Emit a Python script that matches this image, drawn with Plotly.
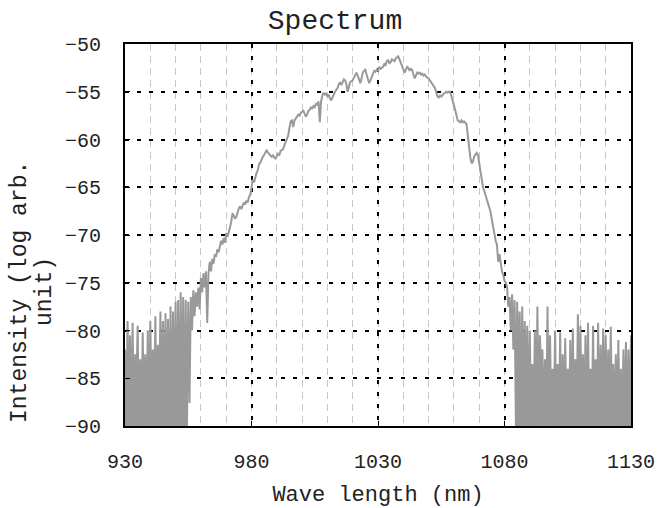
import numpy as np
import plotly.graph_objects as go

# Wavelength grid (nm), 0.5 nm sampling from 930 to 1130
wl_start = 930.0
wl_stop = 1130.0
wl_step = 0.5
wavelength = np.arange(wl_start, wl_stop + wl_step / 2, wl_step)

# Intensity (log arb. unit), 10 samples per row (5 nm)
intensity = [
    -82.0, -90, -79.0, -88, -80.5, -90, -79.2, -90, -82.5, -86,
    -79.5, -90, -83.0, -90, -80.2, -89, -82.5, -90, -80.0, -90,
    -79.0, -88, -82.0, -90, -78.5, -90, -81.5, -87, -78.0, -90,
    -79.0, -90, -78.2, -88, -78.8, -90, -77.5, -90, -78.0, -89,
    -77.0, -90, -76.8, -90, -76.0, -88, -76.5, -90, -76.8, -90,
    -77.0, -87.6, -76.5, -80.0, -75.8, -78.5, -76.0, -77.5, -75.5, -77.8,
    -74.5, -76.0, -74.0, -75.5, -73.8, -79.2, -74.0, -72.8, -73.8, -72.5,
    -73.0, -72.0, -72.3, -71.5, -71.8, -71.2, -70.6, -71.0, -70.3, -70.8,
    -69.8, -70.2, -69.5, -69.2, -68.6, -67.7, -68.0, -68.3, -68.1, -67.6,
    -67.2, -67.0, -67.3, -66.9, -66.6, -66.8, -66.4, -66.6, -66.0, -65.8,
    -64.8, -64.2, -64.5, -63.8, -63.5, -63.2, -62.6, -62.4, -62.0, -61.8,
    -61.6, -61.3, -61.1, -61.4, -61.5, -61.7, -61.8, -61.6, -61.9, -62.0,
    -61.8, -61.5, -61.6, -61.2, -61.1, -61.0, -60.6, -60.3, -60.0, -59.6,
    -58.8, -58.1, -58.0, -58.7, -58.0, -57.8, -57.6, -57.4, -57.5, -57.2,
    -57.1, -57.0, -57.3, -57.6, -57.4, -57.0, -56.9, -56.6, -56.8, -56.5,
    -56.6, -56.2, -56.4, -56.0, -58.2, -56.0, -55.4, -55.1, -55.3, -55.2,
    -55.5, -55.3, -55.7, -55.9, -55.6, -55.2, -55.0, -54.8, -54.6, -54.2,
    -54.0, -54.3, -53.9, -53.7, -53.8, -54.2, -55.0, -54.3, -54.0, -53.9,
    -53.8, -53.5, -53.2, -53.0, -53.3, -53.8, -54.1, -53.6, -53.0, -52.8,
    -52.7, -53.2, -53.6, -54.1, -53.8, -53.4, -53.0, -52.8, -52.9, -52.7,
    -52.8, -52.4, -52.6, -52.5, -52.4, -52.1, -52.2, -51.8, -51.7, -52.0,
    -51.9, -51.6, -51.7, -51.8, -51.5, -51.4, -51.3, -51.6, -52.0, -52.4,
    -52.7, -53.0, -52.7, -52.4, -52.5, -52.8, -52.6, -52.7, -53.2, -53.6,
    -53.3, -53.0, -53.1, -53.0, -53.2, -53.1, -53.3, -53.2, -53.4, -53.5,
    -53.6, -53.8, -54.0, -54.2, -54.4, -54.6, -55.0, -55.5, -55.6, -55.4,
    -55.5, -55.3, -55.2, -55.1, -55.0, -55.1, -55.0, -55.0, -55.4, -55.9,
    -56.4, -56.9, -57.5, -58.0, -58.1, -58.2, -58.0, -58.2, -58.1, -58.3,
    -58.4, -59.6, -61.0, -61.9, -62.5, -62.3, -61.8, -61.6, -61.4, -61.6,
    -62.5, -63.4, -64.2, -65.0, -65.4, -65.9, -66.3, -66.6, -67.2, -67.6,
    -68.4, -69.2, -69.8, -70.6, -71.0, -72.8, -72.0, -73.2, -73.8, -74.2,
    -74.8, -75.0, -75.4, -77.5, -76.5, -80.0, -76.2, -82.0, -76.8, -90,
    -77.0, -84, -78.0, -90, -77.5, -90, -79.0, -86, -79.5, -90,
    -80.0, -90, -83.5, -90, -80.0, -90, -77.5, -90, -80.5, -84,
    -82.0, -90, -83.0, -90, -77.5, -90, -80.5, -90, -84.0, -90,
    -80.0, -90, -83.5, -90, -80.2, -90, -82.5, -90, -80.8, -90,
    -84.0, -90, -81.0, -90, -79.8, -90, -83.0, -90, -78.3, -90,
    -79.5, -90, -82.5, -90, -80.5, -90, -79.2, -90, -84.0, -90,
    -79.5, -90, -83.0, -90, -79.2, -90, -81.5, -90, -79.8, -90,
    -80.5, -90, -82.0, -90, -79.6, -90, -83.5, -90, -82.5, -90,
    -81.0, -90, -84.0, -90, -82.0, -90, -81.2, -90, -82.0, -90,
    -80.5,
]

# Noise-floor regions (nm) where the detector signal reaches the floor
noise_left_range = (930.0, 954.5)
noise_right_range = (1084.5, 1130.0)
floor_level = -90

x_ticks = [930, 980, 1030, 1080, 1130]
y_ticks = [-90, -85, -80, -75, -70, -65, -60, -55, -50]

chart_title = "Spectrum"
x_title = "Wave length (nm)"
y_title_lines = ["Intensity (log arb.", "unit)"]

FONT = "Courier New, Liberation Mono, monospace"
TRACE_COLOR = "#999999"
TEXT_COLOR = "#222"

wl_arr = np.asarray(wavelength)
int_arr = np.asarray(intensity, dtype=float)

fig = go.Figure()

# solid fill under the noisy floor segments (the dense raw data renders as a solid band)
for lo, hi in (noise_left_range, noise_right_range):
    m = (wl_arr >= lo) & (wl_arr <= hi)
    xs = list(wl_arr[m]) + [wl_arr[m][-1], wl_arr[m][0]]
    ys = list(int_arr[m]) + [floor_level, floor_level]
    fig.add_trace(go.Scatter(
        x=xs, y=ys, mode="lines", fill="toself", fillcolor=TRACE_COLOR,
        line=dict(width=0, color=TRACE_COLOR), showlegend=False, hoverinfo="skip",
    ))

fig.add_trace(go.Scatter(
    x=wl_arr, y=int_arr, mode="lines",
    line=dict(color=TRACE_COLOR, width=2),
    showlegend=False, hoverinfo="skip",
))

axis_common = dict(
    showline=True, linecolor="black", linewidth=2, mirror=True,
    ticks="inside", ticklen=5, tickwidth=1, tickcolor="black",
    showgrid=True, gridcolor="black", gridwidth=2, griddash="4px,8px",
    zeroline=False, automargin=False,
    tickfont=dict(family=FONT, size=20, color=TEXT_COLOR),
)

fig.update_xaxes(
    range=[930, 1130], tickvals=x_ticks, ticktext=[str(v) for v in x_ticks],
    ticklabelstandoff=16,
    title=dict(text=x_title, font=dict(family=FONT, size=22, color=TEXT_COLOR), standoff=13),
    minor=dict(dtick=10, showgrid=True, gridcolor="#c8c8c8", gridwidth=1, griddash="7px,5px"),
    **axis_common,
)
fig.update_yaxes(
    range=[-90, -50], tickvals=y_ticks, ticktext=[str(v).replace("-", "\u2212") for v in y_ticks],
    ticklabelstandoff=18,
    **axis_common,
)

# two-line rotated y-axis title, placed like the original
y_title_x_px = [20, 45]
y_title_center_px = 292
plot_left, plot_top, plot_w, plot_h = 125, 44, 506, 382
for line_text, xpx in zip(y_title_lines, y_title_x_px):
    fig.add_annotation(
        text=line_text, textangle=-90, showarrow=False,
        xref="paper", yref="paper",
        x=(xpx - plot_left) / plot_w, y=(plot_top + plot_h - y_title_center_px) / plot_h,
        xanchor="center", yanchor="middle",
        font=dict(family=FONT, size=23, color=TEXT_COLOR),
    )

fig.update_layout(
    width=670, height=508,
    margin=dict(l=125, r=39, t=44, b=82),
    paper_bgcolor="white", plot_bgcolor="white",
    title=dict(text=chart_title, x=0.5, xanchor="center", y=0.962, yanchor="middle",
               font=dict(family=FONT, size=28, color=TEXT_COLOR)),
)

fig.write_html("out.html", config={"displayModeBar": False},
               post_script="document.body.style.margin='0px';")
